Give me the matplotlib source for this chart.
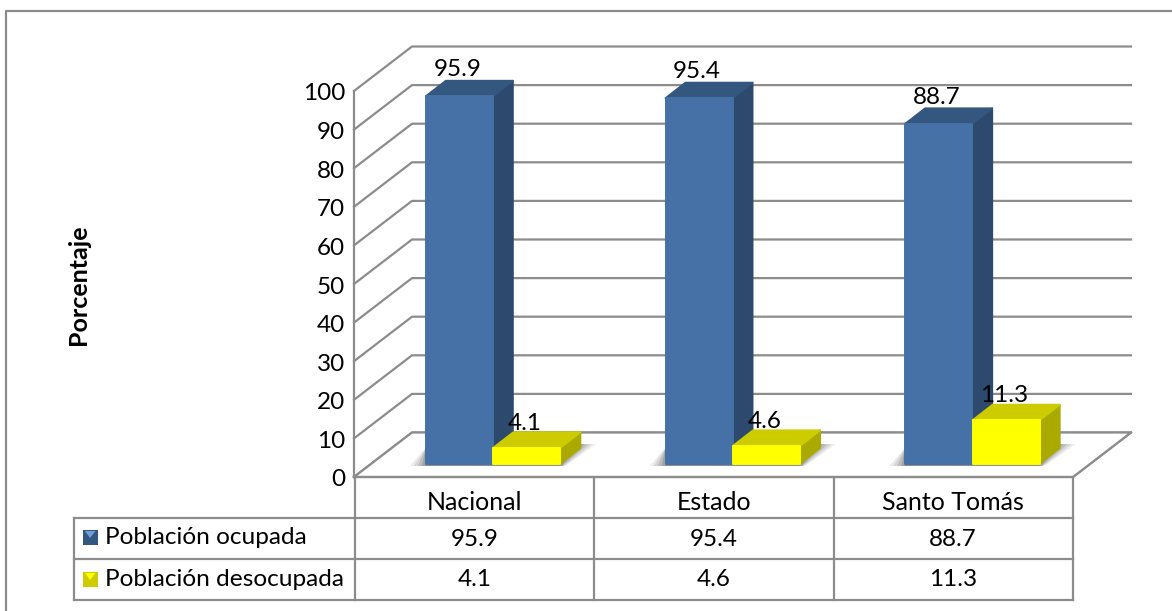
import matplotlib
matplotlib.use("Agg")
import matplotlib.pyplot as plt
from matplotlib.patches import Polygon, Rectangle
import numpy as np

# Datos
categories = ["Nacional", "Estado", "Santo Tomás"]
series_names = ["Población ocupada", "Población desocupada"]
ocupada = [95.9, 95.4, 88.7]
desocupada = [4.1, 4.6, 11.3]
y_ticks = list(range(0, 101, 10))
y_label = "Porcentaje"

W, H = 1172, 611
GRID = "#8c8c8c"
FS = 17.5
FS_CAT = 18
FS_LEG = 17.6
plt.rcParams["font.family"] = ["Lato", "DejaVu Sans"]

fig = plt.figure(figsize=(W / 100, H / 100), dpi=100)

# ejes de pixeles para marco, tabla y textos
px = fig.add_axes([0, 0, 1, 1])
px.set_xlim(0, W)
px.set_ylim(H, 0)
px.axis("off")

# ejes con los datos: x en categorias, y en porcentaje (plano frontal)
x0, x1, y0, y100 = 354, 1073, 477, 91
ax = fig.add_axes([x0 / W, 1 - y0 / H, (x1 - x0) / W, (y0 - y100) / H])
ax.set_xlim(0, 3)
ax.set_ylim(0, 100)
ax.axis("off")
ux = (x1 - x0) / 3  # px por categoria
uy = (y0 - y100) / 100  # px por unidad


def poly(pts, **kw):
    kw.setdefault("lw", 0)
    kw.setdefault("clip_on", False)
    p = Polygon(pts, closed=True, **kw)
    ax.add_patch(p)
    return p


def line(xs, ys, z=1):
    ax.plot(xs, ys, color=GRID, lw=1.6, clip_on=False, zorder=z, solid_capstyle="projecting")


# profundidad del piso y de las barras
wall_dx, wall_dy = 58 / ux, 44.5 / uy
bar_dx, bar_dy = 20 / ux, 15.5 / uy
base_dx, base_dy = 19 / ux, 13.5 / uy
bar_w = 67 / ux
bar_scale = 0.992

# paredes y rejilla
for v in y_ticks:
    line([0, wall_dx, 3 + wall_dx], [v, v + wall_dy, v + wall_dy])
line([0, 0], [0, 100])
line([3, 3 + wall_dx], [0, wall_dy])
line([0, 3], [0, 0], z=2)
for v in y_ticks:
    ax.text(-9 / ux, v - 3 / uy, str(v), ha="right", va="center", fontsize=FS, color="black", clip_on=False)

# piso blanco tapa la parte de la rejilla que queda delante
poly([(0, 0), (wall_dx, wall_dy), (3 + wall_dx, wall_dy), (3, 0)], fc="white", ec="none", zorder=1.5)
line([0, wall_dx, 3 + wall_dx, 3, 0], [0, wall_dy, wall_dy, 0, 0], z=1.6)


def box(left, value, front, side, top, z):
    right = left + bar_w
    b = base_dy
    h = b + value * bar_scale
    kw = dict(zorder=z, joinstyle="round")
    poly([(right, b), (right + bar_dx, b + bar_dy), (right + bar_dx, h + bar_dy), (right, h)],
         fc=side, ec=side, lw=1.4, **kw)
    poly([(left, h), (left + bar_dx, h + bar_dy), (right + bar_dx, h + bar_dy), (right, h)],
         fc=top, ec=top, lw=1.4, **kw)
    poly([(left, b), (right, b), (right, h), (left, h)], fc=front, ec=front, lw=1.4, **kw)


def label(left, value, dy_px):
    ax.text(left + bar_w * 0.5 - 2 / ux, base_dy + value * bar_scale + dy_px / uy, f"{value}",
            ha="center", va="center", fontsize=FS, color="black", zorder=10, clip_on=False)


for i in range(len(categories)):
    blue_left = i + 0.5 - bar_w + base_dx
    yel_left = blue_left + bar_w + 0.5 / ux
    # sombra
    for k, a in zip(np.arange(1, 6), [0.12, 0.16, 0.22, 0.28, 0.35]):
        grow = 20 - 4 * k
        poly([(blue_left - grow / ux, base_dy - 2.5 / uy),
              (yel_left + bar_w + (grow * 0.3) / ux, base_dy - 2.5 / uy),
              (yel_left + bar_w + (bar_dx * ux + grow) / ux, base_dy + bar_dy + 4 / uy),
              (blue_left, base_dy + bar_dy)],
             fc="#666666", ec="none", alpha=a, zorder=3)
    box(blue_left, ocupada[i], "#4571a7", "#2d4a6e", "#34577f", 4)
    box(yel_left, desocupada[i], "#ffff00", "#a9a900", "#cccc00", 5)
    label(blue_left, ocupada[i], 26.5)
    label(yel_left, desocupada[i], 24.5)

# marco exterior
px.plot([6, 6, W], [H, 11, 11], color=GRID, lw=1.6)

# tabla de datos
table_rows = [518, 559, 600]
table_cols = [354.5, 594, 834, 1072.5]
table_left = 74
for r in table_rows:
    px.plot([table_left, table_cols[-1]], [r, r], color=GRID, lw=1.6, solid_capstyle="projecting")
px.plot([table_left, table_left], [table_rows[0], table_rows[-1]], color=GRID, lw=1.6)
for c in table_cols:
    px.plot([c, c], [477, 600], color=GRID, lw=1.6)

for i, name in enumerate(categories):
    cx = (table_cols[i] + table_cols[i + 1]) / 2
    px.text(cx, 503, name, ha="center", va="center", fontsize=FS_CAT, color="black")
    px.text(cx, 539, f"{ocupada[i]}", ha="center", va="center", fontsize=FS, color="black")
    px.text(cx, 580, f"{desocupada[i]}", ha="center", va="center", fontsize=FS, color="black")

# leyenda dentro de la tabla
for name, yc, fc, hi in [(series_names[0], 538, "#34577f", "#6f9fd8"),
                         (series_names[1], 580, "#cccc00", "#ffff00")]:
    px.add_patch(Rectangle((82.5, yc - 8), 15, 15, fc=fc, ec="none"))
    px.add_patch(Polygon([(85, yc - 7), (95.5, yc - 7), (90, yc)], closed=True, fc=hi, ec="none"))
    px.text(105, yc, name, ha="left", va="center", fontsize=FS_LEG, color="black")

# titulo del eje
px.text(78, 285, y_label, rotation=90, ha="center", va="center", fontsize=18, fontweight="bold", color="black")

fig.savefig("out.png", dpi=100, facecolor="white")
